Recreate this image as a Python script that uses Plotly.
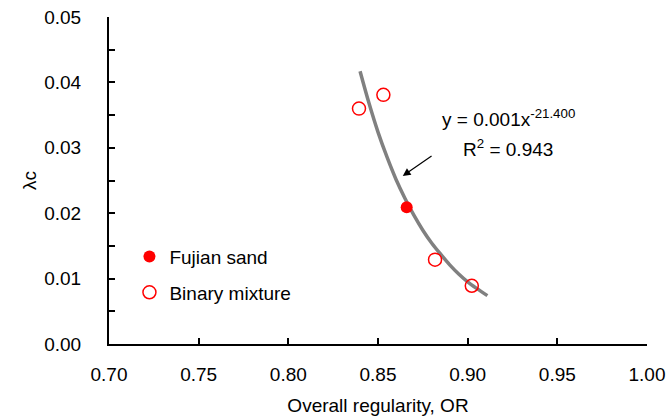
import plotly.graph_objects as go

# Data
fujian_x = [0.866]
fujian_y = [0.0209]
binary_x = [0.8394, 0.8530, 0.8818, 0.9023]
binary_y = [0.0360, 0.0381, 0.0129, 0.0089]
# Trend line (y = 0.001x^-21.400)
fit_x = [0.840, 0.845, 0.850, 0.855, 0.860, 0.865, 0.870, 0.875, 0.880, 0.885, 0.890, 0.895, 0.900, 0.905, 0.911]
fit_y = [0.0417, 0.0368, 0.0324, 0.0286, 0.0252, 0.0223, 0.0197, 0.0174, 0.0154, 0.0137, 0.0121, 0.0107, 0.0095, 0.0085, 0.0074]

FONT = "Liberation Sans, Arial, sans-serif"
FS = 19

fig = go.Figure()
fig.add_trace(go.Scatter(x=fit_x, y=fit_y, mode="lines", line=dict(color="#808080", width=3.5, shape="spline"),
                         showlegend=False, hoverinfo="skip"))
fig.add_trace(go.Scatter(x=fujian_x, y=fujian_y, mode="markers", name="Fujian sand",
                         marker=dict(symbol="circle", size=12, color="#ff0000"), legendgroup="a"))
fig.add_trace(go.Scatter(x=binary_x, y=binary_y, mode="markers", name="Binary mixture",
                         marker=dict(symbol="circle-open", size=13, color="#ff0000", line=dict(width=1.5)),
                         legendgroup="b"))

fig.add_annotation(x=0.8638, y=0.0257, ax=0.8807, ay=0.0289, xref="x", yref="y", axref="x", ayref="y",
                   text="", showarrow=True, arrowhead=2, arrowsize=1.3, arrowwidth=1.2, arrowcolor="black")
fig.add_annotation(x=0.9225, y=0.0346, xref="x", yref="y", text="y = 0.001x<sup>-21.400</sup>",
                   showarrow=False, font=dict(family=FONT, size=FS, color="black"), xanchor="center")
fig.add_annotation(x=0.9225, y=0.0299, xref="x", yref="y", text="R<sup>2</sup> = 0.943",
                   showarrow=False, font=dict(family=FONT, size=FS, color="black"), xanchor="center")

fig.update_layout(
    width=668, height=417,
    margin=dict(l=109, r=21, t=17, b=73),
    paper_bgcolor="white", plot_bgcolor="white",
    font=dict(family=FONT, size=FS, color="black"),
    legend=dict(x=0.038, y=0.325, xanchor="left", yanchor="top", bgcolor="rgba(0,0,0,0)",
                tracegroupgap=8, font=dict(size=FS), itemwidth=30),
    xaxis=dict(range=[0.70, 1.00], tickvals=[0.70, 0.75, 0.80, 0.85, 0.90, 0.95, 1.00],
               tickformat=".2f", ticks="inside", ticklen=6, tickwidth=1.5, tickcolor="black",
               showline=True, linecolor="black", linewidth=2, showgrid=False, zeroline=False,
               ticklabelstandoff=12, automargin=False,
               title=dict(text="Overall regularity, OR", font=dict(size=FS), standoff=15)),
    yaxis=dict(range=[0, 0.05], tickvals=[0, 0.01, 0.02, 0.03, 0.04, 0.05], tickformat=".2f",
               ticks="inside", ticklen=6, tickwidth=1.5, tickcolor="black",
               minor=dict(tickvals=[0.005, 0.015, 0.025, 0.035, 0.045], ticks="inside", ticklen=6,
                          tickwidth=1.5, tickcolor="black"),
               showline=True, linecolor="black", linewidth=2, showgrid=False, zeroline=False,
               ticklabelstandoff=22, automargin=False,
               title=dict(text="λc", font=dict(size=FS), standoff=3)),
)

fig.write_html("out.html")
